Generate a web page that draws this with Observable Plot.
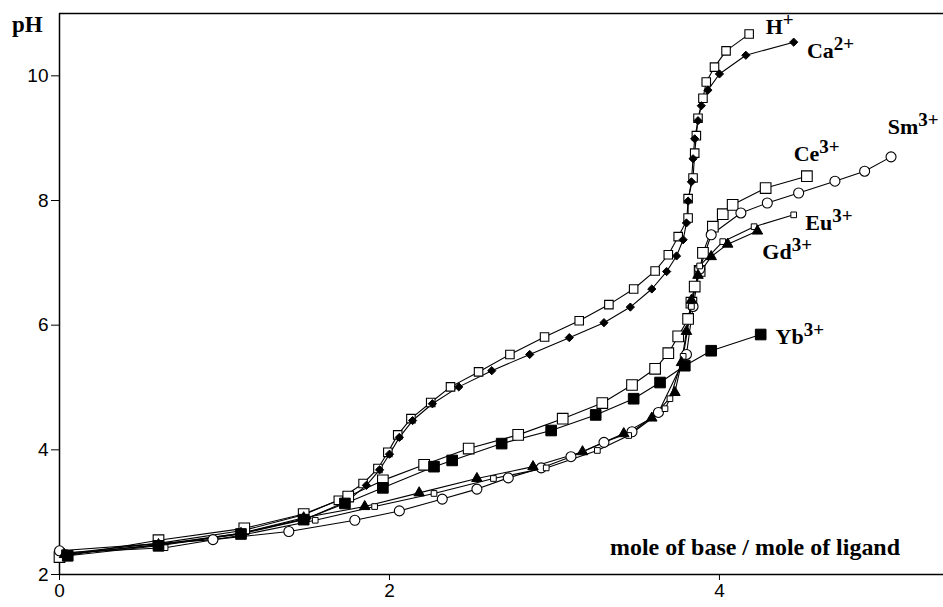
<!DOCTYPE html>
<html>
<head>
<meta charset="utf-8">
<script src="https://cdn.jsdelivr.net/npm/d3@7"></script>
<script src="https://cdn.jsdelivr.net/npm/@observablehq/plot@0.6"></script>
<style>
  html, body { margin: 0; padding: 0; background: #fff; }
  #chart { width: 943px; height: 607px; }
</style>
</head>
<body>
<div id="chart"></div>
<script>
// ---- data: [mole of base / mole of ligand, pH] ----
const hData = [[0,2.33],[0.6,2.5],[1.12,2.71],[1.48,2.96],[1.69,3.19],[1.84,3.46],[1.93,3.70],[1.99,3.96],[2.05,4.24],[2.13,4.50],[2.25,4.76],[2.37,5.01],[2.54,5.25],[2.73,5.53],[2.94,5.81],[3.15,6.07],[3.33,6.33],[3.48,6.58],[3.61,6.87],[3.69,7.13],[3.75,7.42],[3.81,7.72],[3.81,8.03],[3.84,8.36],[3.85,8.76],[3.86,9.04],[3.87,9.32],[3.90,9.64],[3.92,9.90],[3.97,10.14],[4.04,10.40],[4.18,10.67]];
const caData = [[0.05,2.33],[0.6,2.47],[1.1,2.66],[1.5,2.9],[1.74,3.17],[1.86,3.43],[1.94,3.68],[2.0,3.93],[2.06,4.2],[2.14,4.47],[2.26,4.74],[2.42,5.01],[2.62,5.27],[2.85,5.53],[3.09,5.80],[3.30,6.04],[3.46,6.29],[3.59,6.58],[3.68,6.86],[3.74,7.11],[3.78,7.37],[3.80,7.64],[3.81,7.99],[3.83,8.30],[3.84,8.67],[3.85,8.99],[3.87,9.28],[3.89,9.52],[3.93,9.77],[4.0,10.03],[4.16,10.33],[4.45,10.54]];
const ceData = [[0,2.28],[0.6,2.55],[1.12,2.74],[1.48,2.97],[1.75,3.25],[1.96,3.51],[2.21,3.76],[2.48,4.02],[2.78,4.24],[3.05,4.5],[3.29,4.75],[3.47,5.04],[3.61,5.3],[3.69,5.55],[3.75,5.82],[3.81,6.1],[3.83,6.36],[3.85,6.62],[3.88,6.87],[3.9,7.16],[3.96,7.58],[4.02,7.78],[4.08,7.93],[4.28,8.2],[4.53,8.39]];
const smData = [[0,2.38],[0.93,2.56],[1.39,2.69],[1.79,2.87],[2.06,3.02],[2.32,3.21],[2.53,3.37],[2.72,3.55],[2.92,3.71],[3.10,3.89],[3.30,4.12],[3.47,4.29],[3.63,4.6],[3.80,5.53],[3.84,6.3],[3.88,6.9],[3.95,7.45],[4.13,7.8],[4.29,7.96],[4.48,8.12],[4.70,8.31],[4.88,8.47],[5.04,8.70]];
const euData = [[0.03,2.35],[0.64,2.43],[1.1,2.63],[1.55,2.87],[1.91,3.09],[2.27,3.30],[2.63,3.54],[2.95,3.71],[3.26,3.99],[3.45,4.23],[3.67,4.66],[3.70,4.82],[3.78,5.5],[3.83,6.3],[3.88,6.95],[4.02,7.34],[4.21,7.58],[4.45,7.77]];
const gdData = [[0.03,2.32],[0.6,2.48],[1.1,2.66],[1.48,2.91],[1.85,3.09],[2.18,3.31],[2.53,3.54],[2.87,3.73],[3.17,3.97],[3.42,4.26],[3.59,4.51],[3.73,4.92],[3.77,5.4],[3.8,5.9],[3.83,6.4],[3.87,6.8],[3.95,7.10],[4.05,7.30],[4.23,7.51]];
const ybData = [[0.05,2.3],[0.6,2.46],[1.1,2.65],[1.48,2.88],[1.73,3.14],[1.96,3.39],[2.27,3.73],[2.38,3.83],[2.68,4.10],[2.98,4.31],[3.25,4.56],[3.48,4.82],[3.64,5.08],[3.79,5.35],[3.95,5.59],[4.25,5.85]];

const xTicks = [0, 2, 4];
const yTicks = [2, 4, 6, 8, 10];

const labelText = ["H|+", "Ca|2+", "Ce|3+", "Sm|3+", "Eu|3+", "Gd|3+", "Yb|3+"];
const labelX = [4.28, 4.53, 4.45, 5.02, 4.52, 4.26, 4.34];
const labelY = [10.67, 10.29, 8.63, 9.07, 7.53, 7.06, 5.70];

const xTitle = "mole of base / mole of ligand";
const yTitle = "pH";

// ---- build rows ----
const toRows = (arr) => arr.map(([x, y]) => ({x, y}));
const series = [
  {rows: toRows(hData),  symbol: "square",   r: 4.8, fill: "white", sw: 1.1},
  {rows: toRows(caData), symbol: "diamond2", r: 3.7, fill: "black", sw: 1},
  {rows: toRows(ceData), symbol: "square",   r: 6.0, fill: "white", sw: 1.1},
  {rows: toRows(smData), symbol: "circle",   r: 5.0, fill: "white", sw: 1.1},
  {rows: toRows(euData), symbol: "square",   r: 3.2, fill: "white", sw: 1},
  {rows: toRows(gdData), symbol: "triangle", r: 3.9, fill: "black", sw: 1},
  {rows: toRows(ybData), symbol: "square",   r: 6.0, fill: "black", sw: 1}
];
const labels = labelText.map((t, i) => ({t, x: labelX[i], y: labelY[i]}));

const marks = [
  Plot.ruleX([0], {stroke: "black", strokeWidth: 1.5}),
  Plot.ruleY([2], {stroke: "black", strokeWidth: 1.5}),
  Plot.ruleY([11], {stroke: "black", strokeWidth: 1.5})
];
for (const s of series) {
  marks.push(Plot.line(s.rows, {x: "x", y: "y", stroke: "black", strokeWidth: 1.1}));
}
for (const s of series) {
  marks.push(Plot.dot(s.rows, {x: "x", y: "y", symbol: () => s.symbol, r: s.r,
    fill: s.fill, stroke: "black", strokeWidth: s.sw}));
}
marks.push(Plot.text(labels, {x: "x", y: "y", text: "t", textAnchor: "start", lineAnchor: "bottom",
  fontFamily: "Liberation Serif", fontWeight: "bold", fontSize: 22, fill: "black"}));

const plot = Plot.plot({
  width: 943,
  height: 607,
  marginLeft: 59,
  marginRight: 0,
  marginTop: 13,
  marginBottom: 33,
  style: {fontFamily: "Liberation Sans, Arial, sans-serif", fontSize: "19px", color: "black", background: "white"},
  x: {domain: [0, 5.358], ticks: xTicks, tickSize: 6, tickPadding: 3, tickFormat: d => String(d), label: null},
  y: {domain: [2, 11], ticks: yTicks, tickSize: 8, tickPadding: 3, tickFormat: d => String(d), label: null},
  symbol: {type: "identity"},
  marks
});

document.getElementById("chart").appendChild(plot);

// superscripts on ion labels
const svgns = "http://www.w3.org/2000/svg";
plot.querySelectorAll("text").forEach(t => {
  if (!t.textContent.includes("|")) return;
  const [base, sup] = t.textContent.split("|");
  t.textContent = base;
  const ts = document.createElementNS(svgns, "tspan");
  ts.setAttribute("dy", "-8");
  ts.style.fontSize = "19px";
  ts.textContent = sup;
  t.appendChild(ts);
});

// axis titles
const svg = d3.select(plot);
svg.append("text").attr("x", 12).attr("y", 32).attr("text-anchor", "start")
  .style("font-family", "Liberation Serif").style("font-weight", "bold").style("font-size", "23px")
  .attr("fill", "black").text(yTitle);
svg.append("text").attr("x", 900).attr("y", 555).attr("text-anchor", "end")
  .attr("textLength", 290).attr("lengthAdjust", "spacingAndGlyphs")
  .style("font-family", "Liberation Serif").style("font-weight", "bold").style("font-size", "23px")
  .attr("fill", "black").text(xTitle);
</script>
</body>
</html>
